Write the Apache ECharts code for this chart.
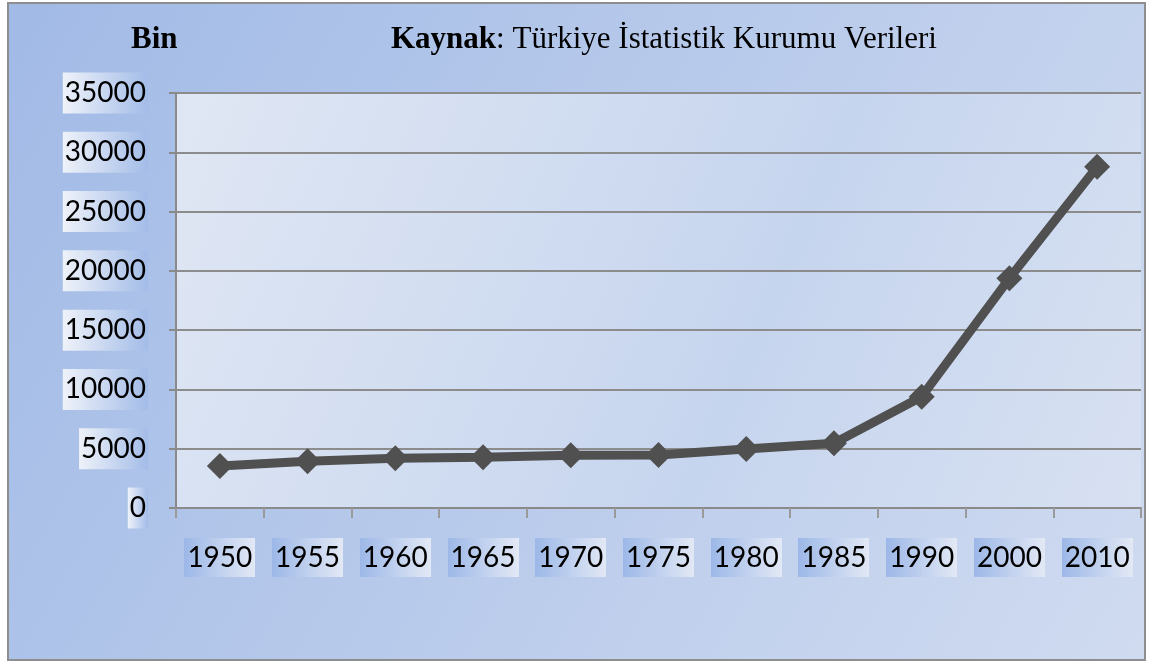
<!DOCTYPE html>
<html>
<head>
<meta charset="utf-8">
<script src="https://cdn.jsdelivr.net/npm/echarts@6/dist/echarts.min.js"></script>
<style>
  html, body { margin: 0; padding: 0; background: #fff; }
  #chart { width: 1155px; height: 665px; }
</style>
</head>
<body>
<div id="chart"></div>
<script>
const years = ['1950', '1955', '1960', '1965', '1970', '1975', '1980', '1985', '1990', '2000', '2010']
const population = [3540, 3950, 4190, 4280, 4450, 4470, 4980, 5460, 9390, 19370, 28780]
const yTicks = [0, 5000, 10000, 15000, 20000, 25000, 30000, 35000]

const serif = "'Liberation Serif', 'Times New Roman', serif"

// little gradient swatches used as label backgrounds
function swatch (from, to) {
  const c = document.createElement('canvas')
  c.width = 64
  c.height = 4
  const ctx = c.getContext('2d')
  const g = ctx.createLinearGradient(0, 0, 64, 0)
  g.addColorStop(0, from)
  g.addColorStop(1, to)
  ctx.fillStyle = g
  ctx.fillRect(0, 0, 64, 4)
  return c
}
const yLabelBg = swatch('#eef2f9', '#a3bce8')
const xLabelBg = swatch('#9db8e8', '#e3e9f5')

const titleRich = {
  b: { fontFamily: serif, fontWeight: 'bold', fontSize: 31, color: '#000' },
  n: { fontFamily: serif, fontWeight: 'normal', fontSize: 31, color: '#000' }
}

const chart = echarts.init(document.getElementById('chart'))
chart.setOption({
  animation: false,
  backgroundColor: '#ffffff',
  graphic: [{
    type: 'rect',
    z: -10,
    shape: { x: 8, y: 3, width: 1137, height: 657 },
    style: {
      fill: new echarts.graphic.LinearGradient(0, 0, 1, 1, [
        { offset: 0, color: '#a1bae6' },
        { offset: 1, color: '#d0dbf0' }
      ]),
      stroke: '#8e8e8e',
      lineWidth: 2
    }
  }],
  title: [{
    text: '{b|Bin}',
    left: 126,
    top: 19,
    textStyle: { fontFamily: serif, fontSize: 31, color: '#000', rich: titleRich }
  }, {
    text: '{b|Kaynak}{n|: Türkiye İstatistik Kurumu Verileri}',
    left: 386,
    top: 19,
    textStyle: { fontFamily: serif, fontWeight: 'normal', fontSize: 31, color: '#000', rich: titleRich }
  }],
  grid: {
    left: 176,
    right: 14,
    top: 93,
    bottom: 157,
    show: true,
    borderWidth: 0,
    backgroundColor: new echarts.graphic.LinearGradient(0, 0, 1, 1, [
      { offset: 0, color: '#e0e7f4' },
      { offset: 0.6, color: '#c6d5ee' },
      { offset: 1, color: '#d8e1f2' }
    ])
  },
  xAxis: {
    type: 'category',
    data: years,
    boundaryGap: true,
    axisLine: { lineStyle: { color: '#8a8a8a', width: 2 } },
    axisTick: { show: true, interval: 0, length: 10, lineStyle: { color: '#9a9a9a', width: 2 } },
    axisLabel: {
      interval: 0,
      margin: 30,
      fontFamily: 'Lato',
      fontSize: 28,
      color: '#000',
      padding: [6, 3, 5, 3],
      backgroundColor: { image: xLabelBg }
    }
  },
  yAxis: {
    type: 'value',
    min: yTicks[0],
    max: yTicks[yTicks.length - 1],
    interval: 5000,
    axisLine: { show: true, lineStyle: { color: '#8a8a8a', width: 2 } },
    axisTick: { show: true, length: 7, lineStyle: { color: '#8a8a8a', width: 2 } },
    axisLabel: {
      margin: 28,
      fontFamily: 'Lato',
      fontSize: 28,
      color: '#000',
      formatter: v => String(v),
      padding: [7, 2, 6, 2],
      backgroundColor: { image: yLabelBg }
    },
    splitLine: { lineStyle: { color: '#8c8c8c', width: 2 } }
  },
  series: [{
    type: 'line',
    data: population,
    symbol: 'diamond',
    symbolSize: 26,
    lineStyle: { color: '#505050', width: 9 },
    itemStyle: { color: '#505050' }
  }]
})
</script>
</body>
</html>
